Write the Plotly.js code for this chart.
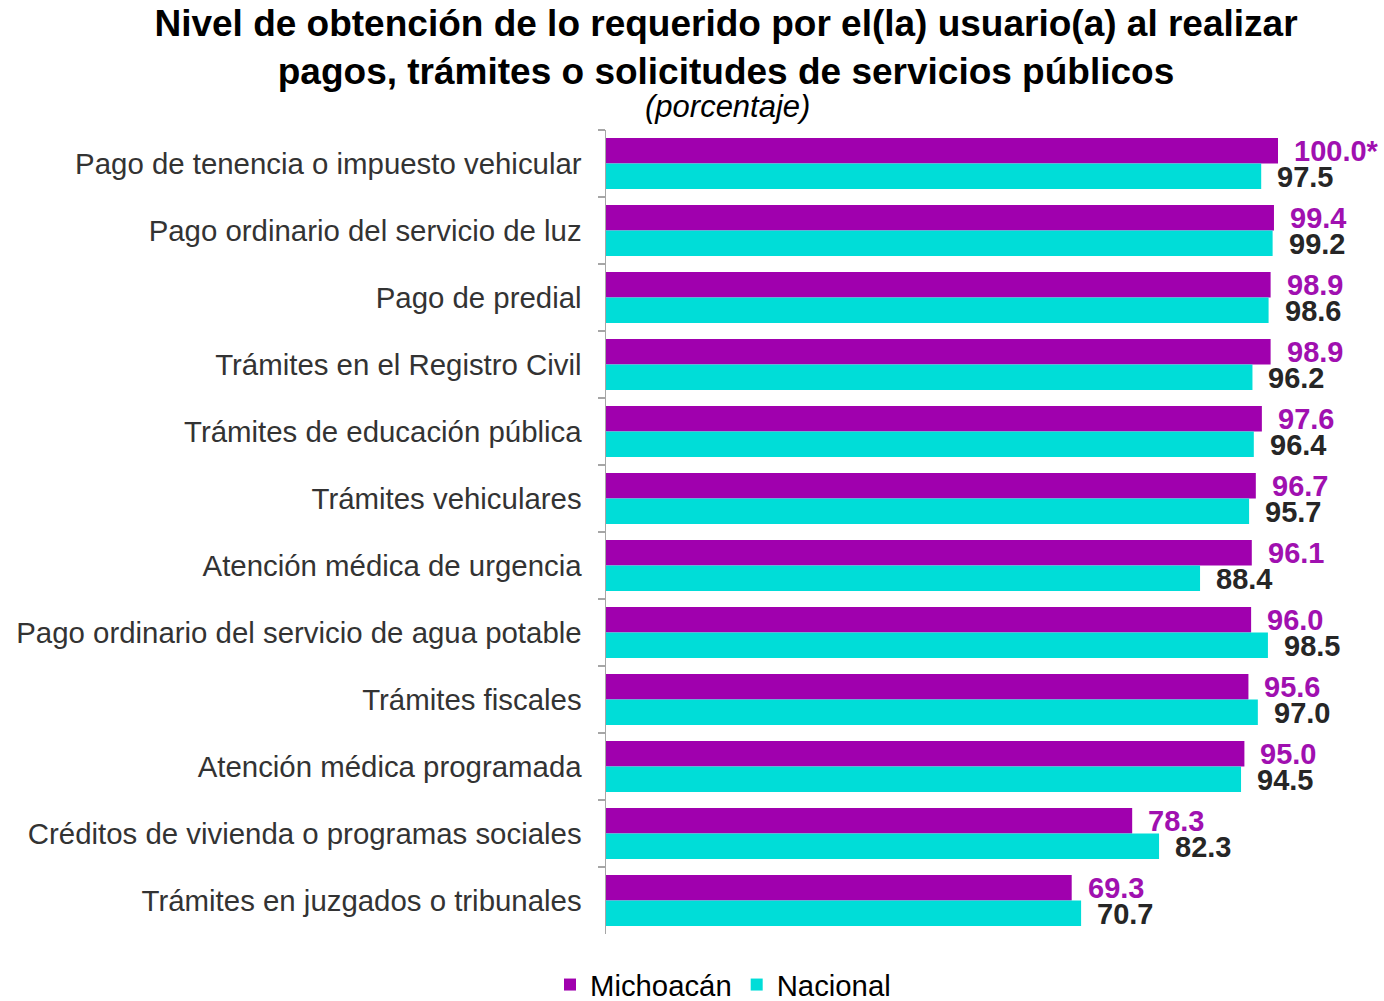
<!DOCTYPE html>
<html>
<head>
<meta charset="utf-8">
<script src="https://cdn.plot.ly/plotly-3.0.1.min.js"></script>
<style>html,body{margin:0;padding:0;background:#fff;}#chart{width:1384px;height:1001px;}</style>
</head>
<body>
<div id="chart"></div>
<script>
const categories = [
  "Pago de tenencia o impuesto vehicular",
  "Pago ordinario del servicio de luz",
  "Pago de predial",
  "Trámites en el Registro Civil",
  "Trámites de educación pública",
  "Trámites vehiculares",
  "Atención médica de urgencia",
  "Pago ordinario del servicio de agua potable",
  "Trámites fiscales",
  "Atención médica programada",
  "Créditos de vivienda o programas sociales",
  "Trámites en juzgados o tribunales"
];
const michoacan = [100.0, 99.4, 98.9, 98.9, 97.6, 96.7, 96.1, 96.0, 95.6, 95.0, 78.3, 69.3];
const nacional  = [97.5, 99.2, 98.6, 96.2, 96.4, 95.7, 88.4, 98.5, 97.0, 94.5, 82.3, 70.7];
const michoacanNote = ["*", "", "", "", "", "", "", "", "", "", "", ""];

const purple = "#A000AE";
const cyan = "#00DDD8";
const font = "Liberation Sans, Arial, sans-serif";

const traces = [
  {type: "bar", orientation: "h", name: "Michoacán", y: categories, x: michoacan,
   marker: {color: purple}, hoverinfo: "none"},
  {type: "bar", orientation: "h", name: "Nacional", y: categories, x: nacional,
   marker: {color: cyan}, hoverinfo: "none"}
];

const annotations = [];
categories.forEach((c, i) => {
  annotations.push({x: michoacan[i], y: c, xref: "x", yref: "y", text: michoacan[i].toFixed(1) + michoacanNote[i],
    showarrow: false, xanchor: "left", yanchor: "middle", xshift: 14, yshift: 13,
    font: {family: font, size: 29, color: "#A010B0", weight: "bold"}});
  annotations.push({x: nacional[i], y: c, xref: "x", yref: "y", text: nacional[i].toFixed(1),
    showarrow: false, xanchor: "left", yanchor: "middle", xshift: 14, yshift: -13,
    font: {family: font, size: 29, color: "#262626", weight: "bold"}});
});
annotations.push({xref: "paper", yref: "paper", x: (727 - 606) / (1380 - 606), y: 1, text: "<i>(porcentaje)</i>",
  showarrow: false, xanchor: "center", yanchor: "bottom", yshift: 4,
  font: {family: font, size: 31, color: "#000"}});

const layout = {
  width: 1384, height: 1001,
  margin: {l: 606, r: 4, t: 130, b: 67, autoexpand: false},
  paper_bgcolor: "#fff", plot_bgcolor: "#fff",
  title: {text: "<b>Nivel de obtención de lo requerido por el(la) usuario(a) al realizar<br>pagos, trámites o solicitudes de servicios públicos</b>",
    x: 726 / 1384, xanchor: "center", xref: "container", y: 1 - 36 / 1001, yanchor: "top", yref: "container",
    font: {family: font, size: 37, color: "#000"}},
  barmode: "group", bargap: 0.24, bargroupgap: 0,
  xaxis: {range: [0, (1380 - 606) / 6.72], showgrid: false, zeroline: false, showticklabels: false, ticks: "", showline: false, fixedrange: true},
  yaxis: {autorange: "reversed", type: "category", showgrid: false, showline: true, linecolor: "#A6A6A6", linewidth: 1.5,
    ticks: "outside", tickson: "boundaries", ticklen: 7, tickcolor: "#A6A6A6", tickwidth: 1.5, ticklabelstandoff: 17,
    tickfont: {family: font, size: 29.4, color: "#333"}},
  showlegend: true,
  legend: {orientation: "h", x: 723 / 1384, xref: "container", xanchor: "center", y: 42 / 1001, yref: "container", yanchor: "top",
    font: {family: font, size: 29.3, color: "#000"}, traceorder: "normal", itemclick: false},
  annotations: annotations
};

Plotly.newPlot("chart", traces, layout, {displayModeBar: false, staticPlot: true});
</script>
</body>
</html>
